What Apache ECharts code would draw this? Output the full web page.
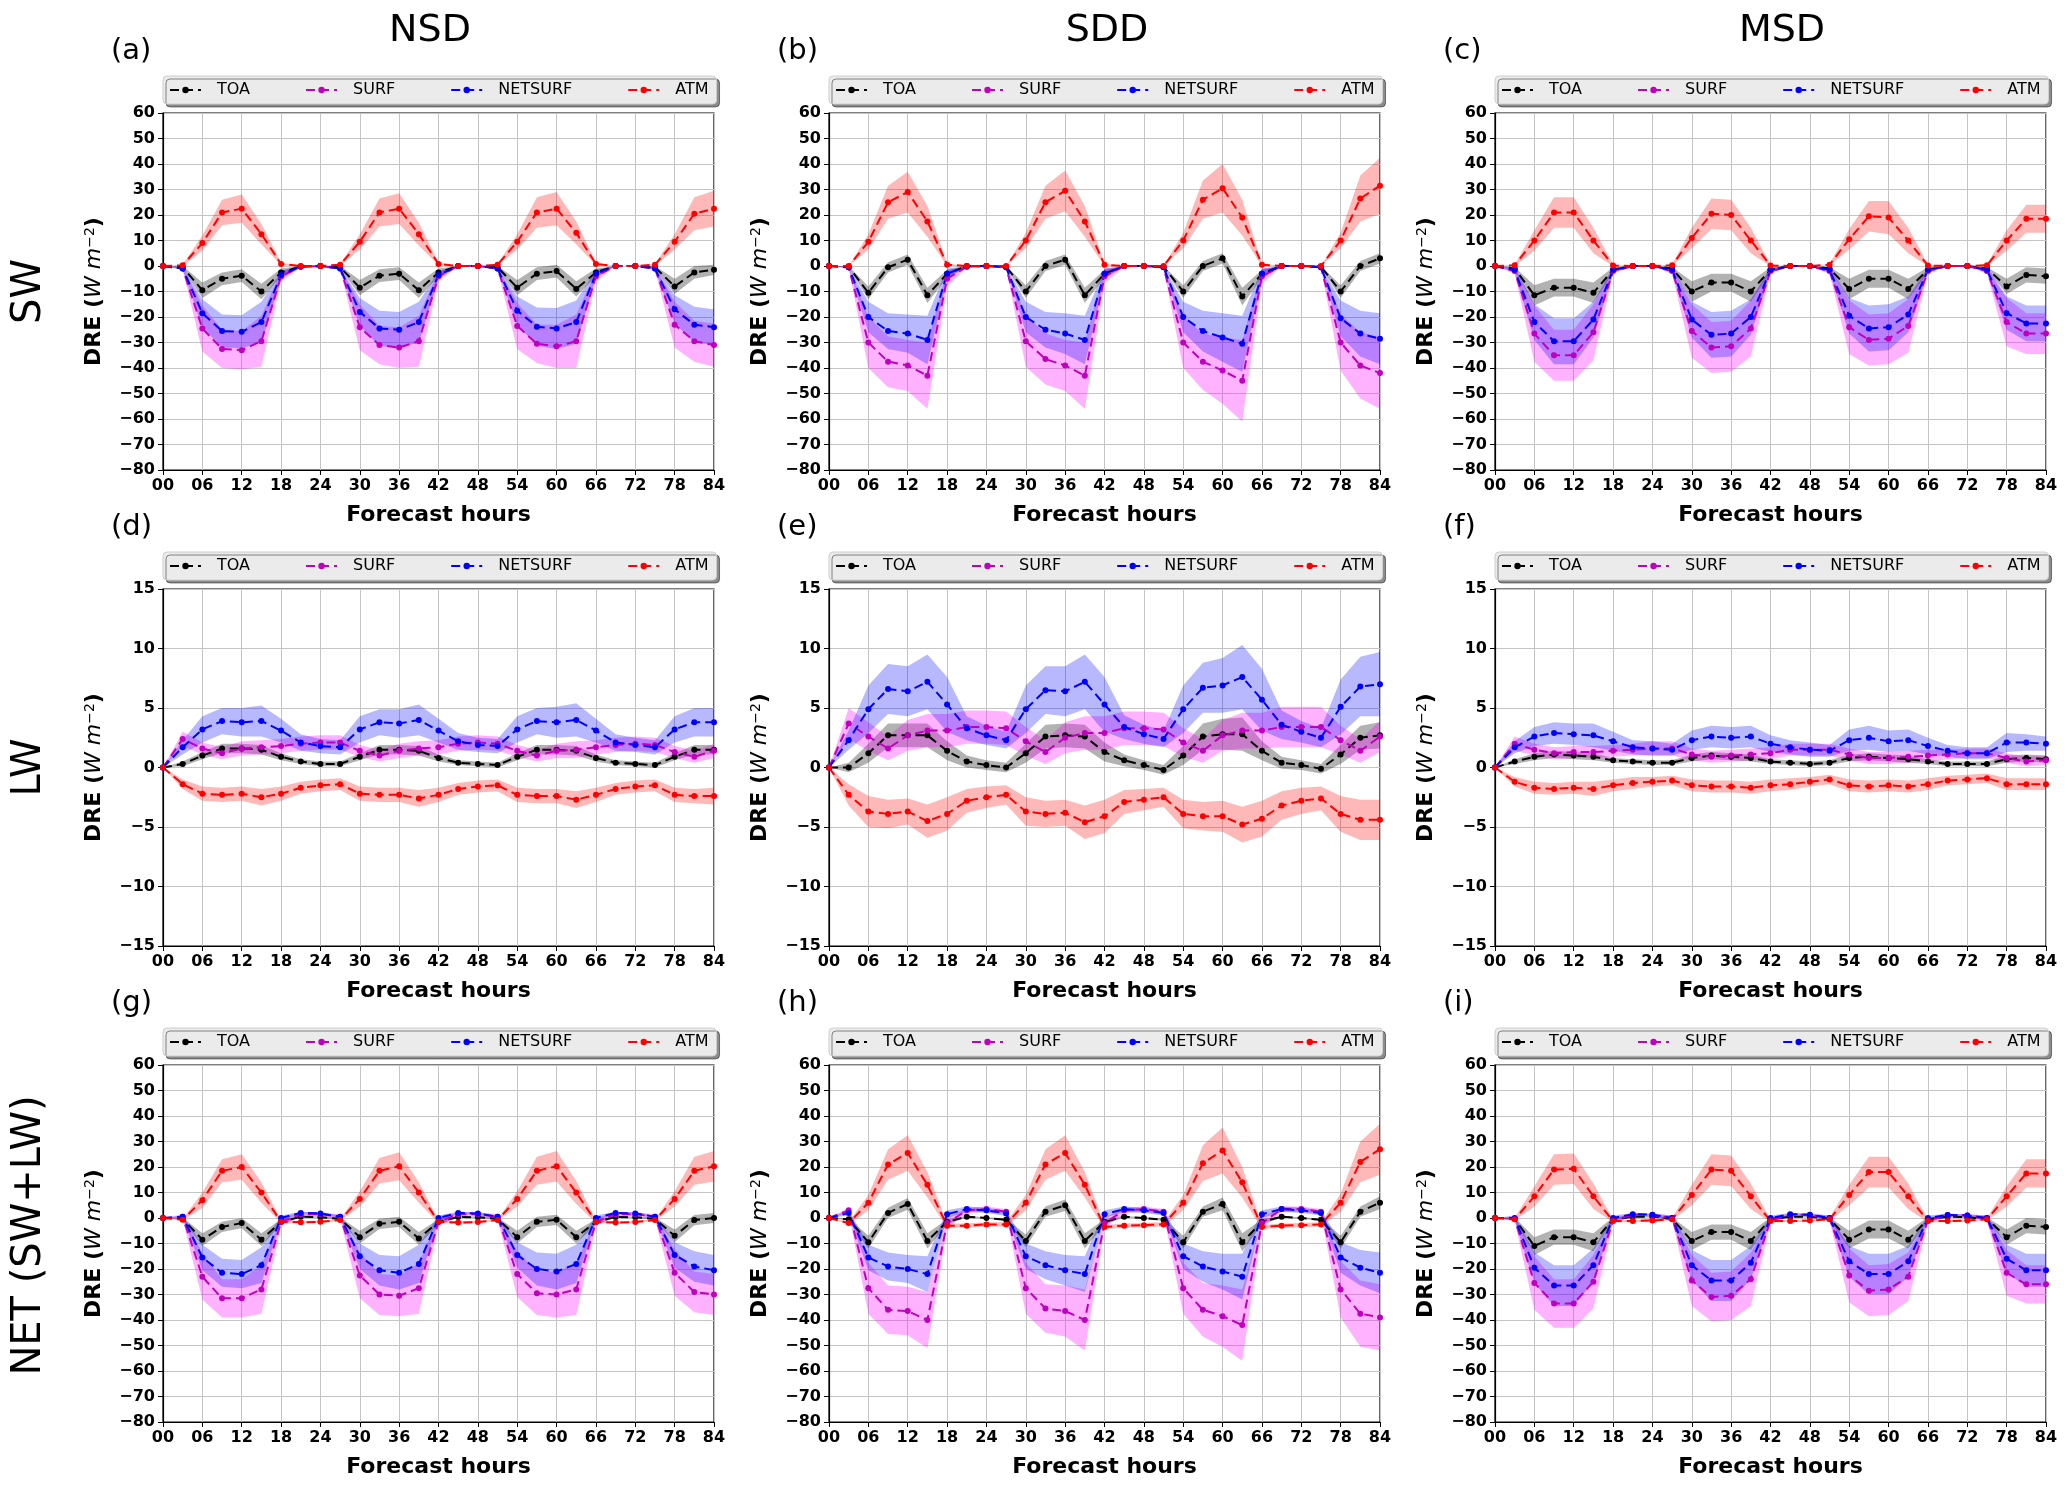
<!DOCTYPE html>
<html>
<head>
<meta charset="utf-8">
<title>DRE forecast</title>
<script src="https://cdn.jsdelivr.net/npm/echarts@6/dist/echarts.min.js"></script>
<style>
html, body { margin: 0; padding: 0; background: #fff; }
#chart { width: 2067px; height: 1492px; }
</style>
</head>
<body>
<div id="chart"></div>
<script>
// forecast hours (x axis)
const hours = [0,3,6,9,12,15,18,21,24,27,30,33,36,39,42,45,48,51,54,57,60,63,66,69,72,75,78,81,84];
const varNames = ['TOA', 'SURF', 'NETSURF', 'ATM'];
const colTitles = ['NSD', 'SDD', 'MSD'];
const rowTitles = ['SW', 'LW', 'NET (SW+LW)'];
const panelTags = ['(a)', '(b)', '(c)', '(d)', '(e)', '(f)', '(g)', '(h)', '(i)'];
const yRangeSW = [-80, 60, 10];
const yRangeLW = [-15, 15, 5];

// (a) NSD SW
const aToa = [0,-0.5,-9.5,-5,-3.8,-10,-2.5,-0.2,0,-0.5,-8.5,-3.8,-3,-9.5,-2.5,0,0,-0.5,-8.5,-3,-2,-9,-2.5,0,0,-0.5,-8,-2.5,-1.5];
const aToaSd = [0,0.5,3,2.5,2.5,3,1.5,0.2,0,0.5,3,2.5,2.5,3,1.5,0,0,0.5,3,2.5,2.5,3,1.5,0,0,0.5,3,2.5,2];
const aSurf = [0,-1,-24.5,-32.5,-33,-29.5,-4,-0.3,0,-1,-24,-31,-32,-29.5,-4,0,0,-1,-23.5,-30.5,-31.5,-29.5,-4,0,0,-1,-23,-29.5,-31];
const aSurfSd = [0,0.5,9,7.5,7.5,10,2,0.2,0,0.5,9,7.5,8,10,2,0,0,0.5,9,7.5,8.5,10.5,2,0,0,0.5,9,8,8.5];
const aNet = [0,-1,-18.5,-25.5,-25.8,-22,-3.5,-0.2,0,-1,-18,-24.5,-25,-22,-3.5,0,0,-1,-17.5,-23.8,-24.5,-22,-3,0,0,-1,-17,-23,-24];
const aNetSd = [0,0.5,5.5,6.5,6.5,8,1.5,0.2,0,0.5,5.5,7,7,8,1.5,0,0,0.5,5.5,7.5,8,8.5,1.5,0,0,0.5,5.5,7,7];
const aAtm = [0,0.3,9,21,22.5,12.5,0.8,0,0,0.5,9.5,21,22.5,12.5,0.8,0,0,0.5,9.5,21,22.5,13,0.8,0,0,0.5,9.5,20.5,22.5];
const aAtmSd = [0,0.3,3,5,5.5,4,0.5,0,0,0.3,3,5.5,6,4.5,0.5,0,0,0.3,3,6,6.5,4.5,0.5,0,0,0.3,3,6.5,7];

// (b) SDD SW
const bToa = [0,-0.3,-10.5,-0.5,2.5,-11.5,-3,0,0,-0.3,-10,0,2.5,-11.5,-3,0,0,-0.3,-10,0,3,-12,-3,0,0,-0.3,-10,0,3];
const bToaSd = [0,0.3,2.5,2,2,3,1.5,0,0,0.3,2.5,2,2,3,1.5,0,0,0.3,2.5,2,2,3.5,1.5,0,0,0.3,2.5,2,2];
const bSurf = [0,-0.5,-30,-37.5,-39,-43,-5,-0.3,0,-0.5,-29.5,-36.5,-39,-43,-4,0,0,-0.5,-30,-37.5,-41,-45,-4,0,0,-0.5,-30,-39,-42];
const bSurfSd = [0,0.5,10,10,10,13,3,0.2,0,0.5,10,10,10,13,3,0,0,0.5,10,11,13,16,3,0,0,0.5,11,13,14];
const bNet = [0,-0.5,-20,-25.5,-26.5,-29,-3,-0.2,0,-0.5,-20,-25,-26.5,-29,-3,0,0,-0.5,-20,-25.5,-28,-30.5,-3,0,0,-0.5,-20.5,-26.5,-28.5];
const bNetSd = [0,0.3,6,7,7.5,9.5,2,0.2,0,0.3,6,7,8,9.5,2,0,0,0.3,6,8,9.5,11,2,0,0,0.3,7,9,10];
const bAtm = [0,0,9.5,25,29,17.5,0.5,0,0,0,10,25,29.5,17.5,0.5,0,0,0,10,26,30.5,19,0.5,0,0,0,10,26.5,31.5];
const bAtmSd = [0,0,3,6.5,8,6,0.5,0,0,0,3,6.5,8,6,0.5,0,0,0,3,7.5,9.5,7,0.5,0,0,0,3,9,11];

// (c) MSD SW
const cToa = [0,-1,-11.5,-8.5,-8.5,-10.5,-1.5,0,0,-1,-10,-6.5,-6.5,-10,-1.5,0,0,-1,-9,-5,-5,-9,-1.5,0,0,-1,-8,-3.5,-4];
const cToaSd = [0,0.5,4,3.5,3.5,4,1,0,0,0.5,4,3.5,3.5,4,1,0,0,0.5,4,3.5,3.5,4,1,0,0,0.5,3,3,3];
const cSurf = [0,-2,-26.5,-35,-35,-26,-2,0,0,-2,-25.5,-32,-31.5,-24.5,-2,0,0,-2,-24,-29,-28.5,-23.5,-2,0,0,-2,-22,-26.5,-26.5];
const cSurfSd = [0,1,11,10,10,11,1,0,0,1,10.5,10,10,11,1,0,0,1,10.5,10,10,10.5,1,0,0,1,9.5,8,8];
const cNet = [0,-1.5,-22,-29.5,-29.5,-21,-1.5,0,0,-1.5,-21,-27,-26.5,-20,-1.5,0,0,-1.5,-19.5,-24.5,-24,-19,-1.5,0,0,-1.5,-18.5,-22.5,-22.5];
const cNetSd = [0,1,7,9,9,7,1,0,0,1,7,9,9,7,1,0,0,1,7,9,9,7,1,0,0,1,6.5,7,7];
const cAtm = [0,0.3,10,21,21,10,0.2,0,0,0.3,11,20.5,20,10,0.2,0,0,0.5,10.5,19.5,19,10,0.2,0,0,0.3,10,18.5,18.5];
const cAtmSd = [0,0.3,4,6,6,5,0.3,0,0,0.3,4,6,6,5,0.3,0,0,0.3,4,6,6.5,5,0.3,0,0,0.3,4,5.5,5.5];

// (d) NSD LW
const dToa = [0,0.3,1.0,1.6,1.6,1.5,0.9,0.5,0.3,0.3,0.9,1.5,1.5,1.4,0.8,0.4,0.3,0.2,0.9,1.5,1.5,1.4,0.8,0.4,0.3,0.2,0.9,1.5,1.5];
const dToaSd = [0,0.2,0.3,0.4,0.4,0.4,0.3,0.2,0.2,0.2,0.3,0.4,0.4,0.4,0.3,0.2,0.2,0.2,0.3,0.4,0.4,0.4,0.3,0.2,0.2,0.2,0.3,0.4,0.4];
const dSurf = [0,2.4,1.6,1.2,1.6,1.7,1.8,2.0,2.1,2.1,1.4,1.0,1.4,1.6,1.7,2.0,2.1,2.0,1.4,1.0,1.4,1.5,1.7,1.9,2.0,1.9,1.3,0.9,1.4];
const dSurfSd = [0,0.6,0.5,0.5,0.6,0.6,0.6,0.6,0.6,0.6,0.5,0.5,0.6,0.6,0.6,0.6,0.6,0.6,0.5,0.5,0.6,0.7,0.6,0.6,0.6,0.6,0.5,0.5,0.6];
const dNet = [0,1.7,3.2,3.9,3.8,3.9,3.1,2.1,1.8,1.7,3.2,3.8,3.7,4.0,3.1,2.2,1.9,1.8,3.2,3.9,3.8,4.0,3.1,2.1,1.9,1.7,3.2,3.8,3.8];
const dNetSd = [0,0.6,1.1,1.1,1.2,1.3,1.0,0.7,0.6,0.6,1.1,1.1,1.2,1.3,1.0,0.7,0.6,0.6,1.1,1.1,1.3,1.4,1.0,0.7,0.6,0.6,1.1,1.2,1.2];
const dAtm = [0,-1.4,-2.2,-2.3,-2.2,-2.5,-2.2,-1.7,-1.5,-1.4,-2.2,-2.3,-2.3,-2.6,-2.3,-1.8,-1.6,-1.5,-2.3,-2.4,-2.4,-2.7,-2.3,-1.8,-1.6,-1.5,-2.3,-2.4,-2.4];
const dAtmSd = [0,0.4,0.6,0.6,0.6,0.7,0.6,0.5,0.5,0.5,0.6,0.6,0.6,0.7,0.6,0.5,0.5,0.5,0.6,0.6,0.6,0.7,0.6,0.5,0.5,0.5,0.6,0.6,0.7];

// (e) SDD LW
const eToa = [0,0,1.2,2.7,2.7,2.7,1.4,0.5,0.2,0,1.2,2.6,2.7,2.6,1.3,0.6,0.2,-0.2,1.0,2.6,2.8,2.8,1.4,0.4,0.2,-0.1,1.1,2.5,2.7];
const eToaSd = [0,0.4,0.8,1.0,1.0,1.0,0.8,0.5,0.4,0.4,0.8,1.0,1.0,1.0,0.8,0.5,0.4,0.4,0.8,1.1,1.3,1.4,0.8,0.5,0.4,0.4,0.8,1.0,1.1];
const eSurf = [0,3.7,2.6,1.6,2.7,3.1,3.1,3.4,3.4,3.3,2.2,1.3,2.5,2.9,2.9,3.3,3.3,3.2,2.1,1.4,2.7,3.1,3.1,3.4,3.4,3.4,2.3,1.4,2.6];
const eSurfSd = [0,1.3,1.2,1.0,1.3,1.4,1.4,1.4,1.4,1.4,1.2,1.0,1.3,1.4,1.4,1.4,1.4,1.4,1.2,1.0,1.3,1.5,1.5,1.7,1.7,1.7,1.2,1.0,1.3];
const eNet = [0,2.3,4.9,6.6,6.4,7.2,5.3,3.3,2.7,2.3,4.9,6.5,6.4,7.2,5.3,3.4,2.8,2.4,4.9,6.7,6.9,7.6,5.7,3.6,3.0,2.5,5.1,6.8,7.0];
const eNetSd = [0,0.8,2.0,2.1,2.1,2.3,2.3,1.0,0.8,0.7,2.0,2.0,2.1,2.3,2.3,1.0,0.8,0.7,2.0,2.1,2.3,2.7,2.6,1.2,0.9,0.8,2.3,2.5,2.7];
const eAtm = [0,-2.3,-3.7,-3.9,-3.7,-4.5,-3.9,-2.8,-2.5,-2.3,-3.7,-3.9,-3.8,-4.6,-4.1,-2.9,-2.7,-2.5,-3.9,-4.1,-4.1,-4.8,-4.3,-3.2,-2.8,-2.6,-3.9,-4.4,-4.4];
const eAtmSd = [0,0.9,1.3,1.2,1.1,1.4,1.4,1.0,0.9,0.8,1.2,1.1,1.1,1.4,1.4,1.0,0.9,0.8,1.2,1.2,1.3,1.5,1.5,1.2,1.1,1.0,1.5,1.7,1.7];

// (f) MSD LW
const fToa = [0,0.5,0.9,1.1,1.0,0.9,0.6,0.5,0.4,0.4,0.8,1.0,0.9,0.8,0.5,0.4,0.3,0.4,0.8,0.9,0.8,0.7,0.5,0.3,0.3,0.3,0.7,0.8,0.7];
const fToaSd = [0,0.2,0.3,0.3,0.3,0.3,0.2,0.2,0.2,0.2,0.3,0.3,0.3,0.3,0.2,0.2,0.2,0.2,0.3,0.3,0.3,0.3,0.2,0.2,0.2,0.2,0.3,0.3,0.3];
const fSurf = [0,2.0,1.5,1.2,1.3,1.3,1.4,1.5,1.6,1.6,1.1,0.9,1.0,1.1,1.2,1.5,1.5,1.5,1.1,0.8,0.8,0.9,1.0,1.1,1.2,1.2,0.8,0.5,0.6];
const fSurfSd = [0,0.6,0.5,0.5,0.5,0.5,0.5,0.5,0.6,0.6,0.5,0.5,0.5,0.5,0.5,0.5,0.5,0.5,0.5,0.5,0.5,0.5,0.5,0.4,0.4,0.4,0.4,0.4,0.4];
const fNet = [0,1.7,2.6,2.9,2.8,2.7,2.2,1.7,1.6,1.5,2.3,2.6,2.5,2.6,2.0,1.7,1.5,1.4,2.3,2.5,2.2,2.3,1.8,1.4,1.2,1.2,2.1,2.1,2.0];
const fNetSd = [0,0.5,0.8,0.9,0.9,1.0,0.8,0.6,0.6,0.5,0.8,0.9,0.9,0.9,0.7,0.6,0.6,0.5,0.9,1.0,0.9,0.9,0.7,0.5,0.5,0.5,0.8,0.7,0.6];
const fAtm = [0,-1.2,-1.7,-1.8,-1.7,-1.8,-1.5,-1.3,-1.2,-1.1,-1.5,-1.6,-1.6,-1.7,-1.5,-1.4,-1.2,-1.0,-1.5,-1.6,-1.5,-1.6,-1.4,-1.1,-1.0,-0.9,-1.4,-1.4,-1.4];
const fAtmSd = [0,0.4,0.5,0.5,0.5,0.6,0.5,0.5,0.4,0.4,0.5,0.5,0.5,0.5,0.5,0.5,0.4,0.4,0.5,0.5,0.5,0.5,0.5,0.4,0.4,0.4,0.5,0.5,0.5];

// (g) NSD NET
const gToa = [0,-0.3,-8.5,-3.5,-2,-8.5,-1.5,0.5,0.3,-0.3,-7.5,-2.3,-1.5,-8,-1.5,0.4,0.3,-0.3,-7.5,-1.5,-0.7,-7.5,-1.5,0.4,0.3,-0.3,-7,-0.8,0];
const gToaSd = [0,0.5,2.5,2,2,2.5,1,0.3,0.3,0.5,2.5,2,2,2.5,1,0.3,0.3,0.5,2.5,2,2,2.5,1,0.3,0.3,0.5,2.5,2,2];
const gSurf = [0,0.5,-23,-31.5,-31.5,-28,-1.5,1.5,1.5,0.5,-22.5,-30,-30.5,-27.5,-1.5,1.5,1.5,0.5,-22,-29.5,-30,-28,-1.5,1.5,1.5,0.5,-21.5,-29,-30];
const gSurfSd = [0,1,9,7.5,7.5,9.5,1.5,0.8,0.8,1,9,8,8,10,1.5,0.8,0.8,1,9,8.5,9,10,1.5,0.8,0.8,1,9,8,8];
const gNet = [0,0.5,-15.5,-21.5,-22,-18.5,0,2,1.8,0.5,-15,-20.5,-21.5,-18,0,2,1.8,0.5,-14.5,-20,-21,-18,0,2,1.8,0.5,-14.5,-19,-20.5];
const gNetSd = [0,0.5,5,5.5,5.5,7,1,0.5,0.5,0.5,5,6,6.5,7.5,1,0.5,0.5,0.5,5,6.5,7,7.5,1,0.5,0.5,0.5,5,6,6];
const gAtm = [0,-0.7,7,18.5,20,10,-1.5,-1.7,-1.5,-0.8,7.5,18.5,20.3,10,-1.5,-1.8,-1.6,-0.8,7.5,18.5,20.3,10,-1.5,-1.8,-1.6,-0.8,7.5,18.5,20.3];
const gAtmSd = [0,0.3,3,4.5,5,4,0.5,0.5,0.5,0.3,3,5,5.5,4,0.5,0.5,0.5,0.3,3,5.5,6,4.5,0.5,0.5,0.5,0.3,3,5.5,6];

// (h) SDD NET
const hToa = [0,-0.5,-9.5,2,5.5,-9,-1.5,0.5,0,-0.7,-9,2.5,5,-9,-1.5,0.5,0,-0.7,-9.5,2.5,5.5,-9.5,-1.5,0.5,0,-0.7,-9.5,2.5,6];
const hToaSd = [0,0.5,2.5,2,2.3,3,1,0.3,0.3,0.5,2.5,2,2.3,3,1,0.3,0.3,0.5,2.5,2,2.5,3.5,1,0.3,0.3,0.5,2.5,2,2.5];
const hSurf = [0,3,-27.5,-36,-36.5,-40,-2,3,3.5,2.5,-27.5,-35.5,-36.5,-40,-2,3,3.5,2.5,-27.5,-36,-38.5,-42,-2,3.5,3.5,2.5,-28,-37.5,-39];
const hSurfSd = [0,1,10,9.5,9.5,11,2,1,1,1,10,9.5,10,12,2,1,1,1,10,10.5,12,14,2,1,1,1,11,13,13];
const hNet = [0,2,-15.5,-19,-20,-22,1.5,3.5,3,1.8,-15,-18.5,-20.5,-22,1.5,3.5,3,2,-15,-19,-21,-23,1.5,3.5,3,2,-15.5,-19.5,-21.5];
const hNetSd = [0,1,5,5.5,5.5,7,1.5,1,1,1,5,5.5,6,7,1.5,1,1,1,5,6,7,9,1.5,1,1,1,6,7,8];
const hAtm = [0,-2,6,21,25.5,13,-3,-3,-2.5,-2.5,6,21,25.5,13,-3.5,-3,-2.8,-2.5,6,21.5,26.5,14,-3.5,-3,-2.8,-2.5,6,22,27];
const hAtmSd = [0,0.5,3,6,7,5,0.8,0.8,0.8,0.8,3,6,7,5,0.8,0.8,0.8,0.8,3,7,9,6,0.8,0.8,0.8,0.8,3.5,8,10];

// (i) MSD NET
const iToa = [0,-0.3,-11,-7.5,-7.5,-9.5,-0.5,0.5,0.5,-0.3,-9,-5.5,-5.5,-9,-0.5,0.5,0.5,-0.3,-8.5,-4.5,-4.5,-8.5,-0.5,0.5,0.3,-0.3,-7.5,-3,-3.5];
const iToaSd = [0,0.5,3.5,3,3,3.5,0.8,0.3,0.3,0.5,3.5,3,3,3.5,0.8,0.3,0.3,0.5,3.5,3.5,3.5,3.5,0.8,0.3,0.3,0.5,3,3,3];
const iSurf = [0,-0.3,-25.5,-33.5,-33.5,-25,-1,1.3,1.2,0,-24.5,-31,-30.5,-24,-1,1.3,1.2,0,-22.5,-28.5,-28,-23,-1,1.2,1,0,-21.5,-26,-26];
const iSurfSd = [0,1,10.5,9.5,9.5,10.5,1,0.5,0.5,1,10,9.5,9.5,10.5,1,0.5,0.5,1,10.5,10,10,9.5,1,0.5,0.5,1,9,7.5,7.5];
const iNet = [0,0,-19.5,-26.5,-26.5,-18.5,0,1.5,1.3,0,-18.5,-24.5,-24.5,-17.5,0,1.5,1.3,0,-17,-22,-22,-17,0,1.2,1,0,-16,-20.5,-20.5];
const iNetSd = [0,1,6,8,8,6.5,1,0.5,0.5,1,6,8,8,6.5,1,0.5,0.5,1,6,8,8,6,1,0.5,0.5,1,5.5,6.5,6.5];
const iAtm = [0,-0.5,8.5,19,19.3,8.5,-1.2,-1.2,-1,-0.5,9,19,18.5,8.5,-1.2,-1.2,-1,-0.5,9,18,18,8.5,-1.2,-1.2,-1,-0.5,8.5,17.5,17.5];
const iAtmSd = [0,0.5,4,6,6,5,0.5,0.5,0.5,0.5,4,6,6,5,0.5,0.5,0.5,0.5,4,6,6,5,0.5,0.5,0.5,0.5,4,5.5,5.5];

// panels, row by row
const panels = [
  { mean: [aToa, aSurf, aNet, aAtm], sd: [aToaSd, aSurfSd, aNetSd, aAtmSd], y: yRangeSW },
  { mean: [bToa, bSurf, bNet, bAtm], sd: [bToaSd, bSurfSd, bNetSd, bAtmSd], y: yRangeSW },
  { mean: [cToa, cSurf, cNet, cAtm], sd: [cToaSd, cSurfSd, cNetSd, cAtmSd], y: yRangeSW },
  { mean: [dToa, dSurf, dNet, dAtm], sd: [dToaSd, dSurfSd, dNetSd, dAtmSd], y: yRangeLW },
  { mean: [eToa, eSurf, eNet, eAtm], sd: [eToaSd, eSurfSd, eNetSd, eAtmSd], y: yRangeLW },
  { mean: [fToa, fSurf, fNet, fAtm], sd: [fToaSd, fSurfSd, fNetSd, fAtmSd], y: yRangeLW },
  { mean: [gToa, gSurf, gNet, gAtm], sd: [gToaSd, gSurfSd, gNetSd, gAtmSd], y: yRangeSW },
  { mean: [hToa, hSurf, hNet, hAtm], sd: [hToaSd, hSurfSd, hNetSd, hAtmSd], y: yRangeSW },
  { mean: [iToa, iSurf, iNet, iAtm], sd: [iToaSd, iSurfSd, iNetSd, iAtmSd], y: yRangeSW }
];

const FONT = 'DejaVu Sans';
const lineColors = ['#000000', '#bf00bf', '#0000ff', '#ff0000'];
const bandColors = ['rgba(0,0,0,0.3)', 'rgba(255,0,255,0.3)', 'rgba(0,0,255,0.28)', 'rgba(255,0,0,0.28)'];
const colLeft = [163, 829, 1495];
const rowTop = [113, 589, 1065];
const plotW = 551, plotH = 357;
const titleX = [430, 1107, 1782];

var chart = echarts.init(document.getElementById('chart'));

function minusFmt(v) {
  return v < 0 ? '\u2212' + (-v) : String(v);
}
var hourLabels = hours.map(function (h) { return String(h).padStart(2, '0'); });

var grids = [], xAxes = [], yAxes = [], legends = [], series = [], graphics = [];

panels.forEach(function (p, i) {
  var row = Math.floor(i / 3), col = i % 3;
  var left = colLeft[col], top = rowTop[row];
  grids.push({
    left: left, top: top, width: plotW, height: plotH,
    show: true, borderColor: '#000', borderWidth: 1.2, backgroundColor: 'transparent'
  });
  // category axis: one slot per 3 h, ticks/labels/grid every 6 h
  xAxes.push({
    gridIndex: i, type: 'category', data: hourLabels, boundaryGap: false,
    name: 'Forecast hours', nameLocation: 'middle', nameGap: 34,
    nameTextStyle: { fontFamily: FONT, fontWeight: 'bold', fontSize: 22, color: '#000' },
    axisLine: { show: true, onZero: false, lineStyle: { color: '#000', width: 1.2 } },
    axisTick: { show: true, length: 5, interval: 1, lineStyle: { color: '#000' } },
    axisLabel: { fontFamily: FONT, fontWeight: 'bold', fontSize: 16, color: '#000', margin: 8, interval: 1 },
    splitLine: { show: true, interval: 1, lineStyle: { color: '#c4c4c4', width: 1 } }
  });
  yAxes.push({
    gridIndex: i, type: 'value', min: p.y[0], max: p.y[1], interval: p.y[2],
    name: '{b|DRE (}{i|W m}{s|\u22122}{b|)}', nameLocation: 'middle', nameGap: 58, nameRotate: 90,
    nameTextStyle: {
      color: '#000',
      rich: {
        b: { fontFamily: FONT, fontWeight: 'bold', fontSize: 22, color: '#000' },
        i: { fontFamily: FONT, fontStyle: 'italic', fontSize: 22, color: '#000' },
        s: { fontFamily: FONT, fontSize: 14, color: '#000', verticalAlign: 'top' }
      }
    },
    axisLine: { show: true, onZero: false, lineStyle: { color: '#000', width: 1.2 } },
    axisTick: { show: true, length: 5, lineStyle: { color: '#000' } },
    axisLabel: {
      fontFamily: FONT, fontWeight: 'bold', fontSize: 16, color: '#000', margin: 8,
      showMinLabel: true, showMaxLabel: true, formatter: minusFmt
    },
    splitLine: { show: true, lineStyle: { color: '#c4c4c4', width: 1 } }
  });
  legends.push({
    data: varNames, left: left, top: top - 37, orient: 'horizontal',
    itemWidth: 31, itemHeight: 8, itemGap: 55,
    padding: [6, 8, 6, 6],
    backgroundColor: '#ebebeb', borderColor: '#cfcfcf', borderWidth: 1, borderRadius: 4,
    shadowColor: 'rgba(0,0,0,0.45)', shadowOffsetX: 3, shadowOffsetY: 3, shadowBlur: 0,
    textStyle: { fontFamily: FONT, fontSize: 16, color: '#000', padding: [0, 0, 0, 11] },
    selectedMode: false
  });

  // bands: lower edge plus stacked width
  varNames.forEach(function (name, v) {
    var lower = p.mean[v].map(function (m, k) { return m - p.sd[v][k]; });
    var width = p.sd[v].map(function (s) { return 2 * s; });
    var stackId = 'band' + i + '_' + v;
    series.push({
      type: 'line', name: name + ' lo', xAxisIndex: i, yAxisIndex: i, data: lower,
      stack: stackId, stackStrategy: 'all', symbol: 'none', silent: true, z: 1,
      lineStyle: { width: 0, opacity: 0 }
    });
    series.push({
      type: 'line', name: name + ' band', xAxisIndex: i, yAxisIndex: i, data: width,
      stack: stackId, stackStrategy: 'all', symbol: 'none', silent: true, z: 1,
      lineStyle: { width: 0, opacity: 0 },
      areaStyle: { color: bandColors[v], opacity: 1 }
    });
  });
  // mean lines
  varNames.forEach(function (name, v) {
    series.push({
      type: 'line', name: name, xAxisIndex: i, yAxisIndex: i, data: p.mean[v],
      symbol: 'circle', symbolSize: 6, z: 3,
      lineStyle: { color: lineColors[v], width: 2, type: [9, 5] },
      itemStyle: { color: lineColors[v] }
    });
  });

  graphics.push({
    type: 'text', x: left - 52, y: top - 76,
    style: { text: panelTags[i], font: '29px "DejaVu Sans"', fill: '#000' }
  });
});

colTitles.forEach(function (t, c) {
  graphics.push({
    type: 'text', x: titleX[c], y: 31,
    style: { text: t, font: '38px "DejaVu Sans"', fill: '#000', textAlign: 'center', textVerticalAlign: 'middle' }
  });
});
rowTitles.forEach(function (t, r) {
  graphics.push({
    type: 'text', x: 30, y: rowTop[r] + plotH / 2 - (r === 2 ? 8 : 0), rotation: Math.PI / 2,
    style: { text: t, font: '40px "DejaVu Sans"', fill: '#000', textAlign: 'center', textVerticalAlign: 'middle' }
  });
});

var option = {
  animation: false,
  backgroundColor: '#ffffff',
  grid: grids,
  xAxis: xAxes,
  yAxis: yAxes,
  legend: legends,
  series: series,
  graphic: graphics
};
chart.setOption(option);
</script>
</body>
</html>
